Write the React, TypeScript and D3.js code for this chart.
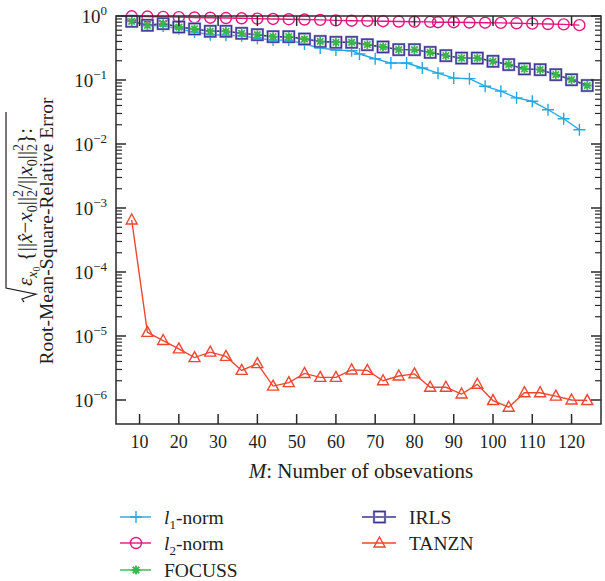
import React, { useEffect, useRef } from 'react';
import * as d3 from 'd3';

// x positions (M) of each series
const xMain = [8, 12, 16, 20, 24, 28, 32, 36, 40, 44, 48, 52, 56, 60, 64, 68, 72, 76, 80, 84, 88, 92, 96, 100, 104, 108, 112, 116, 120, 124];
const xL1 = [8, 12, 16, 20, 24, 28, 32, 36, 40, 44, 48, 52, 56, 60, 64, 66, 70, 74, 78, 82, 86, 90, 94, 98, 102, 106, 110, 114, 118, 122];
const xL2 = [8, 12, 16, 20, 24, 28, 32, 36, 40, 44, 48, 52, 56, 60, 64, 68, 72, 76, 80, 84, 86, 90, 94, 98, 102, 106, 110, 114, 118, 122];

const l1Norm = [0.83, 0.71, 0.70, 0.63, 0.56, 0.51, 0.50, 0.49, 0.45, 0.42, 0.42, 0.365, 0.316, 0.295, 0.287, 0.255, 0.215, 0.184, 0.184, 0.154, 0.128, 0.107, 0.105, 0.08, 0.067, 0.0526, 0.0465, 0.0343, 0.0248, 0.0167];
const l2Norm = [0.99, 0.98, 0.97, 0.96, 0.95, 0.94, 0.93, 0.92, 0.91, 0.90, 0.89, 0.88, 0.87, 0.855, 0.845, 0.84, 0.83, 0.82, 0.815, 0.81, 0.80, 0.80, 0.79, 0.785, 0.78, 0.77, 0.76, 0.75, 0.74, 0.72];
const irls = [0.826, 0.716, 0.76, 0.673, 0.627, 0.577, 0.577, 0.536, 0.51, 0.475, 0.475, 0.437, 0.40, 0.388, 0.388, 0.356, 0.328, 0.298, 0.298, 0.27, 0.24, 0.22, 0.22, 0.196, 0.174, 0.149, 0.145, 0.121, 0.101, 0.082];
const focuss = [0.826, 0.716, 0.76, 0.673, 0.627, 0.577, 0.577, 0.536, 0.51, 0.475, 0.475, 0.437, 0.40, 0.388, 0.388, 0.356, 0.328, 0.298, 0.298, 0.27, 0.24, 0.22, 0.22, 0.196, 0.174, 0.149, 0.145, 0.121, 0.101, 0.082];
const tanzn = [6.5e-4, 1.14e-5, 8.5e-6, 6.3e-6, 4.6e-6, 5.6e-6, 4.8e-6, 2.9e-6, 3.7e-6, 1.65e-6, 1.87e-6, 2.6e-6, 2.26e-6, 2.26e-6, 2.95e-6, 2.9e-6, 2.0e-6, 2.37e-6, 2.56e-6, 1.58e-6, 1.58e-6, 1.24e-6, 1.76e-6, 9.8e-7, 7.7e-7, 1.3e-6, 1.3e-6, 1.15e-6, 1.0e-6, 9.8e-7];

const xTicks = [10, 20, 30, 40, 50, 60, 70, 80, 90, 100, 110, 120];
const yDecades = [0, -1, -2, -3, -4, -5, -6];
const minorMults = [2, 3, 4, 5, 6, 7, 8, 9];

const C_L1 = '#27a7e1';
const C_L2 = '#e5157f';
const C_FOC = '#3bb54a';
const C_IRLS = '#3a3492';
const C_TAN = '#ef4631';
const AX = '#2a2a2a';
const FONT = '"Liberation Serif", "Times New Roman", serif';

type Sym = 'plus' | 'circle' | 'star' | 'square' | 'tri';

function drawMarker(g: any, sym: Sym, cx: number, cy: number, color: string) {
  if (sym === 'plus') {
    g.append('path').attr('d', `M${cx - 6},${cy}H${cx + 6}M${cx},${cy - 6}V${cy + 6}`)
      .attr('stroke', color).attr('stroke-width', 1.4).attr('fill', 'none');
  } else if (sym === 'circle') {
    g.append('circle').attr('cx', cx).attr('cy', cy).attr('r', 5.5)
      .attr('stroke', color).attr('stroke-width', 1.4).attr('fill', 'none');
  } else if (sym === 'square') {
    g.append('rect').attr('x', cx - 5.5).attr('y', cy - 5.5).attr('width', 11).attr('height', 11)
      .attr('stroke', '#a9a3d6').attr('stroke-width', 2.4).attr('fill', 'none');
    g.append('rect').attr('x', cx - 5.5).attr('y', cy - 5.5).attr('width', 11).attr('height', 11)
      .attr('stroke', color).attr('stroke-width', 1.3).attr('fill', 'none');
  } else if (sym === 'star') {
    const r = 4.5, d = r * 0.72;
    g.append('path').attr('d', `M${cx - r},${cy}H${cx + r}M${cx},${cy - r}V${cy + r}M${cx - d},${cy - d}L${cx + d},${cy + d}M${cx - d},${cy + d}L${cx + d},${cy - d}`)
      .attr('stroke', color).attr('stroke-width', 1.8).attr('fill', 'none');
  } else {
    g.append('path').attr('d', `M${cx},${cy - 6}L${cx + 5.5},${cy + 4}L${cx - 5.5},${cy + 4}Z`)
      .attr('stroke', color).attr('stroke-width', 1.4).attr('fill', 'none');
  }
}

export default function App() {
  const ref = useRef<SVGSVGElement>(null);

  useEffect(() => {
    const svg = d3.select(ref.current);
    svg.selectAll('*').remove();
    const L = 116, R = 601, T = 16, B = 424;
    const x = d3.scaleLinear().domain([4, 127.5]).range([L, R]);
    const y = d3.scaleLog().domain([Math.pow(10, -6.375), 1]).range([B, T]);

    svg.append('rect').attr('width', 605).attr('height', 581).attr('fill', '#fff');

    const plot = svg.append('g');
    const series: { xs: number[]; ys: number[]; color: string; sym: Sym }[] = [
      { xs: xL1, ys: l1Norm, color: C_L1, sym: 'plus' },
      { xs: xL2, ys: l2Norm, color: C_L2, sym: 'circle' },
    ];
    const line = d3.line<[number, number]>().x(d => x(d[0])).y(d => y(d[1]));
    series.forEach(s => {
      const pts = s.xs.map((v, j) => [v, s.ys[j]] as [number, number]);
      plot.append('path').attr('d', line(pts)).attr('stroke', s.color).attr('stroke-width', 1.4).attr('fill', 'none');
      pts.forEach(p => drawMarker(plot, s.sym, x(p[0]), y(p[1]), s.color));
    });
    // FOCUSS line, IRLS line + squares, FOCUSS stars
    const fPts = xMain.map((v, j) => [v, focuss[j]] as [number, number]);
    const iPts = xMain.map((v, j) => [v, irls[j]] as [number, number]);
    plot.append('path').attr('d', line(fPts)).attr('stroke', C_FOC).attr('stroke-width', 1.4).attr('fill', 'none');
    plot.append('path').attr('d', line(iPts)).attr('stroke', C_IRLS).attr('stroke-width', 1.4).attr('fill', 'none');
    iPts.forEach(p => drawMarker(plot, 'square', x(p[0]), y(p[1]), C_IRLS));
    fPts.forEach(p => drawMarker(plot, 'star', x(p[0]), y(p[1]), C_FOC));
    // TANZN
    const tPts = xMain.map((v, j) => [v, tanzn[j]] as [number, number]);
    plot.append('path').attr('d', line(tPts)).attr('stroke', C_TAN).attr('stroke-width', 1.4).attr('fill', 'none');
    tPts.forEach(p => drawMarker(plot, 'tri', x(p[0]), y(p[1]), C_TAN));

    // axes box
    const ax = svg.append('g').attr('stroke', AX).attr('stroke-width', 1.5).attr('fill', 'none');
    ax.append('rect').attr('x', L).attr('y', T).attr('width', R - L).attr('height', B - T);
    xTicks.forEach(t => {
      const px = x(t);
      ax.append('line').attr('x1', px).attr('x2', px).attr('y1', B).attr('y2', B - 10);
      ax.append('line').attr('x1', px).attr('x2', px).attr('y1', T).attr('y2', T + 10);
    });
    yDecades.forEach(k => {
      const py = y(Math.pow(10, k));
      ax.append('line').attr('x1', L).attr('x2', L + 10).attr('y1', py).attr('y2', py);
      ax.append('line').attr('x1', R).attr('x2', R - 10).attr('y1', py).attr('y2', py);
      if (k > -6) {
        minorMults.forEach(m => {
          const v = m * Math.pow(10, k - 1);
          const pm = y(v);
          ax.append('line').attr('x1', L).attr('x2', L + 6).attr('y1', pm).attr('y2', pm).attr('stroke-width', 1.2);
          ax.append('line').attr('x1', R).attr('x2', R - 6).attr('y1', pm).attr('y2', pm).attr('stroke-width', 1.2);
        });
      }
    });

    const txt = svg.append('g').attr('font-family', FONT).attr('fill', '#231f20');
    // x tick labels
    xTicks.forEach(t => {
      txt.append('text').attr('x', x(t)).attr('y', 448).attr('text-anchor', 'middle').attr('font-size', 18).text(String(t));
    });
    // y tick labels
    yDecades.forEach(k => {
      const py = y(Math.pow(10, k));
      const t = txt.append('text').attr('x', 107).attr('y', py + 7).attr('text-anchor', 'end').attr('font-size', 19);
      t.append('tspan').text('10');
      t.append('tspan').attr('font-size', 13).attr('dy', -8).text(k === 0 ? '0' : '\u2212' + String(-k));
    });
    // x axis title
    const xt = txt.append('text').attr('x', 361).attr('y', 478).attr('text-anchor', 'middle').attr('font-size', 21);
    xt.append('tspan').attr('font-style', 'italic').text('M');
    xt.append('tspan').text(': Number of obsevations');

    // y axis title line 2
    txt.append('text').attr('transform', 'translate(53,231) rotate(-90)').attr('text-anchor', 'middle')
      .attr('font-size', 19.5).text('Root-Mean-Square-Relative Error');

    // y axis title line 1 (sqrt expression)
    const g1 = txt.append('g').attr('transform', 'translate(32,208) rotate(-90)');
    const t1 = g1.append('text').attr('font-size', 21);
    let shift = 0;
    const add = (s: string, opts: { size?: number; base?: number; italic?: boolean; dx?: number } = {}) => {
      const base = opts.base ?? 0;
      const ts = t1.append('tspan').text(s).attr('dy', base - shift);
      shift = base;
      if (opts.size) ts.attr('font-size', opts.size);
      if (opts.italic) ts.attr('font-style', 'italic');
      if (opts.dx) ts.attr('dx', opts.dx);
      return ts;
    };
    add('\u03B5', { italic: true });
    add('x', { size: 14, base: 5, italic: true });
    add('0', { size: 10, base: 8 });
    add(' {||', { base: 0 });
    add('x\u0302', { italic: true });
    add('\u2212');
    add('x', { italic: true });
    add('0', { size: 14, base: 5 });
    add('||', { base: 0 });
    add('2', { size: 14, base: -9 });
    add('2', { size: 14, base: 5, dx: -7 });
    add('/||', { base: 0 });
    add('x', { italic: true });
    add('0', { size: 14, base: 5 });
    add('||', { base: 0 });
    add('2', { size: 14, base: -9 });
    add('2', { size: 14, base: 5, dx: -7 });
    add('}:', { base: 0 });
    const node = t1.node() as SVGTextElement;
    const W = node.getComputedTextLength();
    const radW = 16;
    const total = W + radW;
    const x0 = -total / 2;
    t1.attr('x', x0 + radW);
    g1.append('path')
      .attr('d', `M${x0},${-8}L${x0 + 3},${-10}L${x0 + 8},${4}L${x0 + 14},${-26}L${x0 + total + 2},${-26}`)
      .attr('stroke', '#231f20').attr('stroke-width', 1.2).attr('fill', 'none');

    // legend
    const leg = svg.append('g');
    const items: { label: string; sub?: string; rest?: string; color: string; sym: Sym; lx: number; ly: number }[] = [
      { label: 'l', sub: '1', rest: '-norm', color: C_L1, sym: 'plus', lx: 120, ly: 517 },
      { label: 'l', sub: '2', rest: '-norm', color: C_L2, sym: 'circle', lx: 120, ly: 543 },
      { label: 'FOCUSS', color: C_FOC, sym: 'star', lx: 120, ly: 570 },
      { label: 'IRLS', color: C_IRLS, sym: 'square', lx: 362, ly: 517 },
      { label: 'TANZN', color: C_TAN, sym: 'tri', lx: 362, ly: 543 },
    ];
    items.forEach(it => {
      const len = it.lx < 200 ? 31 : 34;
      leg.append('line').attr('x1', it.lx).attr('x2', it.lx + len).attr('y1', it.ly).attr('y2', it.ly)
        .attr('stroke', it.color).attr('stroke-width', 1.4);
      drawMarker(leg, it.sym, it.lx + len / 2 + 0.5, it.ly, it.color);
      const t = leg.append('text').attr('x', it.lx + len + 13).attr('y', it.ly + 6.5)
        .attr('font-family', FONT).attr('font-size', 19.5).attr('fill', '#231f20');
      if (it.sub) {
        t.append('tspan').attr('font-style', 'italic').text(it.label);
        t.append('tspan').attr('font-size', 13).attr('dy', 5).text(it.sub);
        t.append('tspan').attr('dy', -5).text(it.rest!);
      } else {
        t.text(it.label);
      }
    });
  }, []);

  return (
    <svg ref={ref} width={605} height={581}
      style={{ position: 'absolute', left: 0, top: 0, display: 'block' }} />
  );
}
